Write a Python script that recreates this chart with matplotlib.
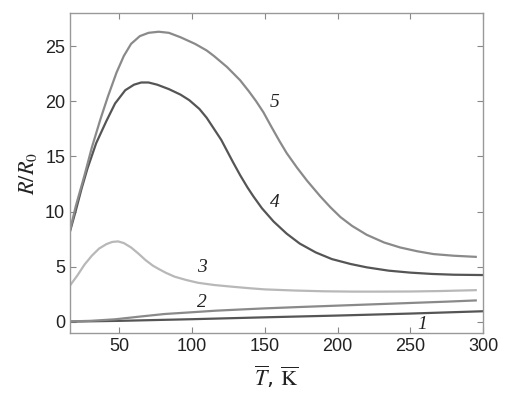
import numpy as np
import matplotlib
matplotlib.use("Agg")
import matplotlib.pyplot as plt

plt.rcParams["mathtext.fontset"] = "stix"

# Curve data (T in K, R/R0)
T5 = [16, 20, 26, 31, 37, 42, 48, 53, 58, 64, 70, 77, 84, 92, 102, 110, 115, 124, 133, 139, 144, 149, 154, 160, 165, 172, 179, 188, 195, 202, 210, 220, 232, 243, 255, 266, 280, 295]
R5 = [8.3, 10.5, 13.3, 15.8, 18.4, 20.4, 22.6, 24.1, 25.2, 25.9, 26.2, 26.3, 26.2, 25.8, 25.2, 24.6, 24.1, 23.1, 21.9, 20.9, 20.0, 19.0, 17.8, 16.4, 15.3, 14.0, 12.8, 11.4, 10.4, 9.5, 8.7, 7.9, 7.2, 6.75, 6.4, 6.15, 6.0, 5.9]

T4 = [16, 20, 24, 28, 34, 41, 47, 54, 60, 65, 70, 76, 84, 92, 98, 105, 110, 115, 120, 124, 128, 133, 138, 142, 148, 156, 165, 174, 185, 196, 209, 220, 235, 250, 265, 280, 300]
R4 = [8.2, 10.1, 12.1, 13.9, 16.2, 18.2, 19.8, 21.0, 21.5, 21.7, 21.7, 21.5, 21.1, 20.6, 20.1, 19.3, 18.5, 17.5, 16.5, 15.5, 14.5, 13.3, 12.2, 11.4, 10.3, 9.1, 8.0, 7.1, 6.3, 5.7, 5.25, 4.95, 4.65, 4.47, 4.35, 4.28, 4.25]

T3 = [16, 21, 26, 31, 36, 41, 45, 49, 53, 58, 63, 68, 73, 77, 82, 88, 96, 104, 115, 127, 140, 150, 170, 190, 210, 230, 250, 270, 295]
R3 = [3.3, 4.2, 5.2, 6.0, 6.65, 7.05, 7.25, 7.3, 7.15, 6.75, 6.2, 5.6, 5.1, 4.8, 4.45, 4.1, 3.8, 3.55, 3.35, 3.2, 3.05, 2.95, 2.85, 2.78, 2.75, 2.75, 2.76, 2.8, 2.88]

T2 = [16, 30, 47, 65, 81, 100, 116, 135, 150, 175, 200, 225, 250, 275, 295]
R2 = [0.05, 0.1, 0.24, 0.5, 0.72, 0.88, 1.02, 1.14, 1.23, 1.36, 1.48, 1.6, 1.72, 1.84, 1.95]

T1 = [16, 50, 100, 150, 200, 250, 300]
R1 = [0.03, 0.1, 0.25, 0.42, 0.58, 0.76, 0.97]

labels = ["1", "2", "3", "4", "5"]
label_T = [258, 107, 107, 157, 157]
label_R = [-0.2, 1.8, 4.9, 10.8, 19.9]

xticks = [50, 100, 150, 200, 250, 300]
yticks = [0, 5, 10, 15, 20, 25]

fig = plt.figure(figsize=(5.12, 3.93), dpi=100)
ax = fig.add_axes([0.1367, 0.1527, 0.9434 - 0.1367, 0.967 - 0.1527])

c_dark = "#555555"
c_mid = "#8a8a8a"
c_light = "#b8b8b8"

ax.plot(T1, R1, color=c_dark, lw=1.6)
ax.plot(T2, R2, color=c_mid, lw=1.6)
ax.plot(T3, R3, color=c_light, lw=1.6)
ax.plot(T4, R4, color=c_dark, lw=1.6)
ax.plot(T5, R5, color=c_mid, lw=1.6)

for lab, tx, ry in zip(labels, label_T, label_R):
    ax.text(tx, ry, lab, fontsize=14, family="Liberation Serif", style="italic",
            ha="center", va="center", color="#222222")

ax.set_xlim(16, 300)
ax.set_ylim(-1, 28)
ax.set_xticks(xticks)
ax.set_yticks(yticks)
ax.tick_params(direction="in", top=True, right=True, length=4, width=0.8,
               color="#888888", labelsize=13, labelcolor="#222222")
for lbl in ax.get_xticklabels() + ax.get_yticklabels():
    lbl.set_family("Liberation Sans")
for s in ax.spines.values():
    s.set_color("#999999")
    s.set_linewidth(1.0)

ax.set_xlabel(r"$\overline{T}$, $\overline{\mathrm{K}}$", fontsize=16, color="#222222", labelpad=6)
ax.set_ylabel(r"$R/R_0$", fontsize=16, color="#222222", labelpad=4)

fig.savefig("out.png", dpi=100)
